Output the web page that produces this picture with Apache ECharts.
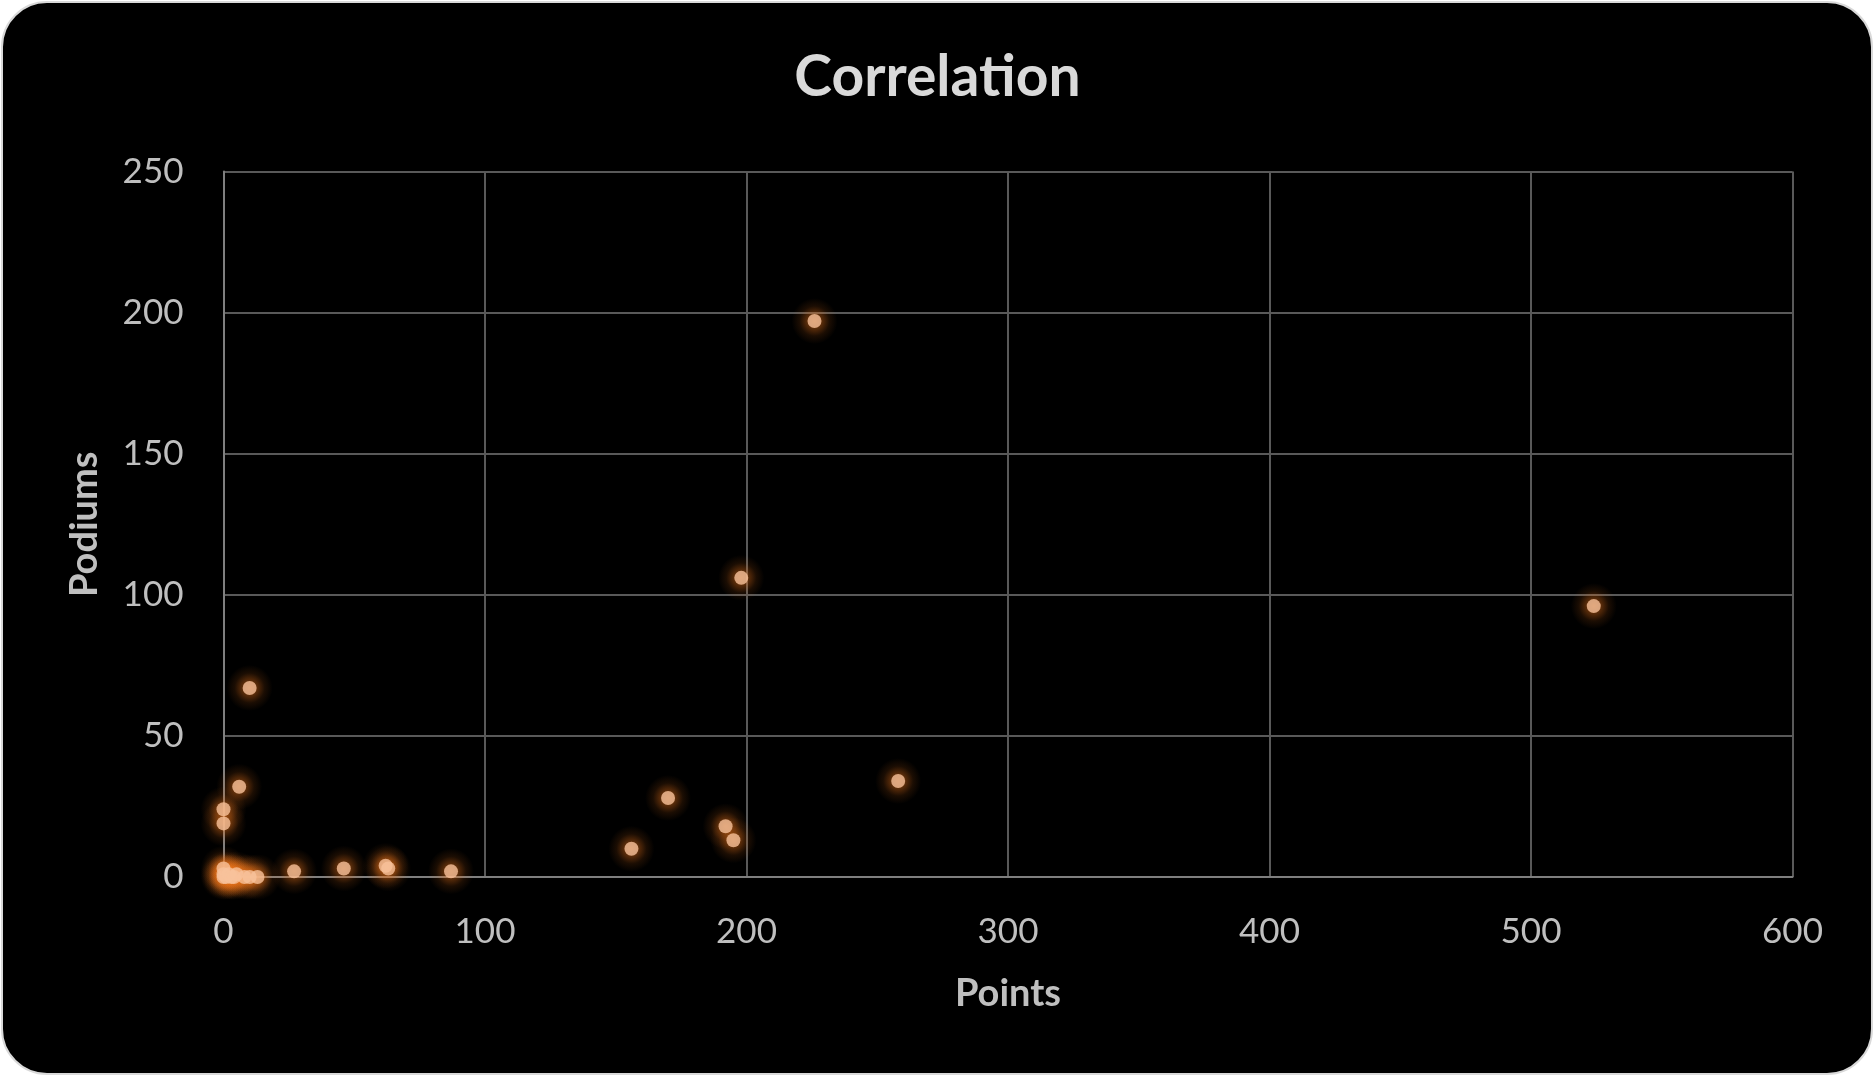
<!DOCTYPE html>
<html>
<head>
<meta charset="utf-8">
<script src="https://cdn.jsdelivr.net/npm/echarts@6/dist/echarts.min.js"></script>
<style>
  html, body { margin: 0; padding: 0; background: #ffffff; }
  #frame {
    position: absolute; left: 1px; top: 1px; width: 1872px; height: 1074px;
    background: #000000; border: 2px solid #d9d9d9; border-radius: 46px;
    box-sizing: border-box; overflow: hidden;
  }
  #chart { position: absolute; left: -3px; top: -3px; width: 1875px; height: 1077px; }
</style>
</head>
<body>
<div id="frame"><div id="chart"></div></div>
<script>
// Data
const pointsValues  = [0, 0, 0, 1, 2, 3, 4, 5, 8, 10, 13, 0, 0, 6, 10, 27, 46, 62, 63, 87, 156, 170, 192, 195, 198, 226, 258, 524];
const podiumsValues = [0, 1, 3, 0, 1, 0, 0, 1, 0, 0, 0, 24, 19, 32, 67, 2, 3, 4, 3, 2, 10, 28, 18, 13, 106, 197, 34, 96];
const xTicks = [0, 100, 200, 300, 400, 500, 600];
const yTicks = [0, 50, 100, 150, 200, 250];
const chartTitle = 'Correlation';
const xName = 'Points';
const yName = 'Podiums';

const scatterData = pointsValues.map((x, i) => [x, podiumsValues[i]]);

const chart = echarts.init(document.getElementById('chart'));
const fontFamily = 'Lato, "Open Sans", sans-serif';
chart.setOption({
  backgroundColor: 'transparent',
  animation: false,
  title: {
    text: chartTitle,
    left: 'center',
    top: 44,
    textStyle: { color: '#d9d9d9', fontSize: 57, fontWeight: 'bold', fontFamily: fontFamily }
  },
  grid: { left: 223.5, right: 82.5, top: 171.5, bottom: 200 },
  xAxis: {
    type: 'value',
    min: xTicks[0], max: xTicks[xTicks.length - 1], interval: xTicks[1] - xTicks[0],
    name: xName, nameLocation: 'middle', nameGap: 98,
    nameTextStyle: { color: '#bfbfbf', fontSize: 38, fontWeight: 'bold', fontFamily: fontFamily },
    axisLine: { show: true, lineStyle: { color: '#7f7f7f', width: 2 } },
    axisTick: { show: false },
    axisLabel: { color: '#bfbfbf', fontSize: 35, fontFamily: fontFamily, margin: 37 },
    splitLine: { show: true, lineStyle: { color: '#595959', width: 2 } }
  },
  yAxis: {
    type: 'value',
    min: yTicks[0], max: yTicks[yTicks.length - 1], interval: yTicks[1] - yTicks[0],
    name: yName, nameLocation: 'middle', nameGap: 120, nameRotate: 90,
    nameTextStyle: { color: '#bfbfbf', fontSize: 38, fontWeight: 'bold', fontFamily: fontFamily },
    axisLine: { show: true, lineStyle: { color: '#7f7f7f', width: 2 } },
    axisTick: { show: false },
    axisLabel: { color: '#bfbfbf', fontSize: 35, fontFamily: fontFamily, margin: 40 },
    splitLine: { show: true, lineStyle: { color: '#595959', width: 2 } }
  },
  series: [{
    name: 'glow',
    type: 'scatter',
    data: scatterData,
    symbol: 'circle',
    symbolSize: 46,
    z: 1,
    silent: true,
    itemStyle: {
      color: {
        type: 'radial', x: 0.5, y: 0.5, r: 0.5,
        colorStops: [
          { offset: 0, color: 'rgba(235, 115, 25, 0.75)' },
          { offset: 0.3, color: 'rgba(235, 115, 25, 0.5)' },
          { offset: 0.65, color: 'rgba(235, 115, 25, 0.15)' },
          { offset: 1, color: 'rgba(235, 115, 25, 0)' }
        ]
      }
    }
  }, {
    name: 'points',
    type: 'scatter',
    data: scatterData,
    symbol: 'circle',
    symbolSize: 14,
    z: 3,
    itemStyle: { color: '#f8c29b' }
  }]
});
</script>
</body>
</html>
